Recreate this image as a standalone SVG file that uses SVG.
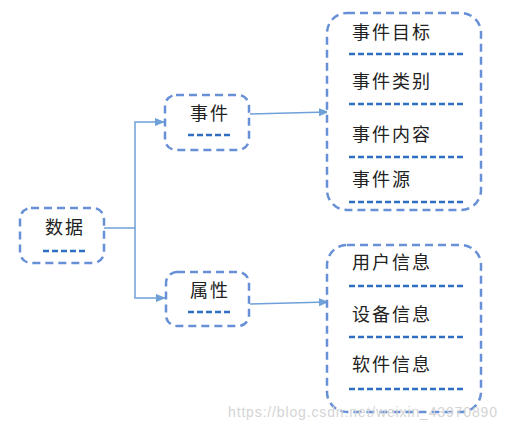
<svg xmlns="http://www.w3.org/2000/svg" width="508" height="431" viewBox="0 0 508 431">
<defs>
<style>
.box{fill:#fff;stroke:#6790D6;stroke-width:2.5;stroke-dasharray:8 5}
.sep{stroke:#2F6FC2;stroke-width:2.5;stroke-dasharray:6 3}
.t{font-family:"Noto Sans CJK SC","Liberation Sans",sans-serif;font-size:18px;fill:#222;letter-spacing:2px}
.c{fill:none;stroke:#6FA0D8;stroke-width:1.5}
.wm{font-family:"Liberation Sans",Arial,sans-serif;font-size:14px;fill:#d4d4d4}
</style>
<marker id="ah" markerWidth="10" markerHeight="10" refX="9" refY="5" orient="auto" markerUnits="userSpaceOnUse">
<path d="M0,1 L10,5 L0,9 Z" fill="#6FA0D8"/>
</marker>
</defs>
<g id="connectors">
<path class="c" d="M104,228 H135 V122 H164" marker-end="url(#ah)"/>
<path class="c" d="M135,228 V298 H165" marker-end="url(#ah)"/>
<path class="c" d="M250,114 L328,112" marker-end="url(#ah)"/>
<path class="c" d="M250,304 L328,302" marker-end="url(#ah)"/>
</g>
<g id="node-data">
<rect class="box" x="20" y="208" width="84" height="55" rx="11"/>
<text class="t" x="45" y="234">数据</text>
<line class="sep" x1="43" y1="251" x2="86" y2="251"/>
</g>
<g id="node-event">
<rect class="box" x="165" y="95" width="84" height="55" rx="11"/>
<text class="t" x="190" y="120">事件</text>
<line class="sep" x1="188" y1="135" x2="232" y2="135"/>
</g>
<g id="node-attr">
<rect class="box" x="166" y="272" width="83" height="54" rx="11"/>
<text class="t" x="190" y="297">属性</text>
<line class="sep" x1="188" y1="312" x2="233" y2="312"/>
</g>
<g id="node-event-detail">
<rect class="box" x="327" y="13" width="154" height="197" rx="20"/>
<text class="t" x="352" y="39">事件目标</text>
<line class="sep" x1="349" y1="54" x2="463" y2="54"/>
<text class="t" x="352" y="88">事件类别</text>
<line class="sep" x1="349" y1="104" x2="463" y2="104"/>
<text class="t" x="352" y="141">事件内容</text>
<line class="sep" x1="349" y1="157" x2="463" y2="157"/>
<text class="t" x="352" y="186">事件源</text>
<line class="sep" x1="349" y1="202" x2="463" y2="202"/>
</g>
<g id="node-attr-detail">
<rect class="box" x="327" y="245" width="154" height="167" rx="20"/>
<text class="t" x="352" y="269">用户信息</text>
<line class="sep" x1="349" y1="286" x2="463" y2="286"/>
<text class="t" x="352" y="321">设备信息</text>
<line class="sep" x1="349" y1="337" x2="463" y2="337"/>
<text class="t" x="352" y="371">软件信息</text>
<line class="sep" x1="349" y1="389" x2="463" y2="389"/>
</g>
<text class="wm" x="228" y="417" textLength="269">https://blog.csdn.net/weixin_43970890</text>
</svg>
